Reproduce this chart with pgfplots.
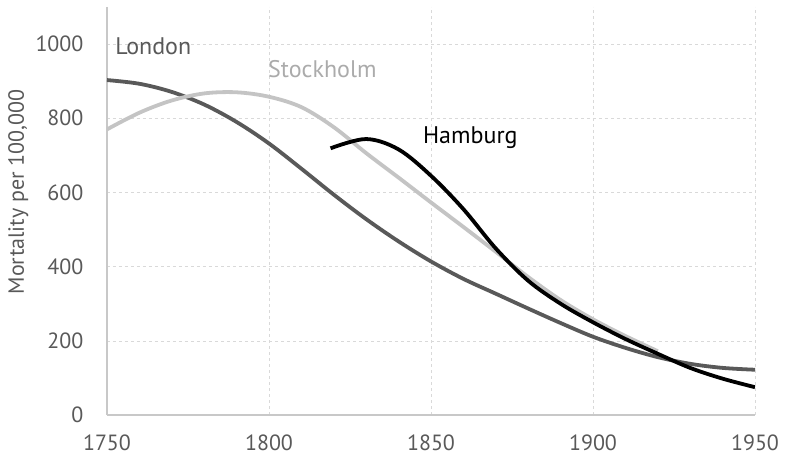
\documentclass[border=0pt]{standalone}
\usepackage{fontspec}
\setmainfont{PT Sans}
\usepackage{pgfplots}
\pgfplotsset{compat=1.18}
\definecolor{londonc}{HTML}{595959}
\definecolor{stockc}{HTML}{C4C4C4}
\definecolor{stocktext}{HTML}{ABABAB}
\definecolor{tickc}{HTML}{595959}
\definecolor{axisc}{HTML}{C8C8C8}
\definecolor{gridc}{HTML}{D9D9D9}
\begin{document}
\fontsize{22}{26}\selectfont
\begin{tikzpicture}
\begin{axis}[name=ax, at={(0,0)}, anchor=south west,
  scale only axis, width=648pt, height=408pt,
  xmin=1750, xmax=1950, ymin=0, ymax=1100,
  xtick={1750,1800,...,1950}, ytick={0,200,...,1000},
  axis lines=left, axis line style={-, draw=axisc, line width=1.3pt},
  major tick length=0pt,
  grid=major, grid style={dashed, draw=gridc, line width=0.6pt},
  /pgf/number format/1000 sep={},
  /pgf/number format/assume math mode=true,
  tick label style={text=tickc, font=\fontsize{22}{26}\selectfont},
  xticklabel style={anchor=north, yshift=-12pt},
  yticklabel style={anchor=east, xshift=-16pt},
  ylabel={Mortality per 100,000},
  ylabel style={text=tickc, font=\fontsize{22}{26}\selectfont, at={(axis description cs:-0.137,0.547)}, anchor=center, rotate=0},
  every axis plot/.append style={smooth, tension=0.55, line width=3.8pt, line cap=butt},
]
\addplot[londonc] coordinates {
 (1750,903) (1760,893) (1770,871) (1780,837) (1790,790) (1800,732) (1810,664)
 (1820,594) (1830,528) (1840,468) (1850,414) (1860,367) (1870,327) (1880,287)
 (1890,248) (1900,211) (1910,181) (1920,156) (1930,138) (1940,127) (1950,122)};
\addplot[stockc] coordinates {
 (1750,770) (1760,815) (1770,848) (1780,867) (1790,870) (1800,858) (1810,830)
 (1820,776) (1830,706) (1840,640) (1850,573) (1860,507) (1870,440) (1880,372)
 (1890,310) (1900,258) (1910,213) (1920,172)};
\addplot[black] coordinates {
 (1819,719) (1830,744) (1840,716) (1850,645) (1860,555) (1870,449) (1880,362)
 (1890,300) (1900,250) (1910,205) (1920,165) (1930,127) (1940,98) (1950,75)};
\node[anchor=west, text=londonc, inner sep=0pt, font=\fontsize{24}{28}\selectfont] at (axis cs:1752.5,995) {London};
\node[anchor=west, text=stocktext, inner sep=0pt, font=\fontsize{24}{28}\selectfont] at (axis cs:1799.7,933) {Stockholm};
\node[anchor=west, text=black, inner sep=0pt, font=\fontsize{24}{28}\selectfont] at (axis cs:1847.5,749) {Hamburg};
\end{axis}
\pgfresetboundingbox
\path (ax.south west) ++(-107pt,-45pt) rectangle ++(787pt,460pt);
\end{tikzpicture}
\end{document}
